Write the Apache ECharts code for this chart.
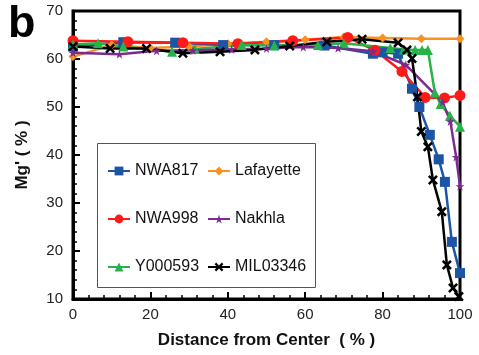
<!DOCTYPE html>
<html>
<head>
<meta charset="utf-8">
<script src="https://cdn.jsdelivr.net/npm/echarts@6/dist/echarts.min.js"></script>
<style>
  html, body { margin: 0; padding: 0; background: #fff; }
  #chart { width: 479px; height: 355px; }
</style>
</head>
<body>
<div id="chart"></div>
<script>
// values: distance from center (%) and Mg' (%)
const nwa817X = [0, 13, 26.4, 38.8, 52, 65, 77.5, 80, 84, 87.6, 89.5, 92.2, 94.5, 96.1, 97.9, 100];
const nwa817Y = [62.6, 63.5, 63.4, 62.9, 62.9, 62.8, 61.1, 61.4, 61.1, 53.8, 50, 44.2, 39.1, 34.4, 21.9, 15.4];

const lafayetteX = [0, 10, 20, 30, 40, 50, 60, 70, 80, 90, 100];
const lafayetteY = [60.5, 62.9, 62.3, 62.6, 63.2, 63.6, 64, 64.6, 64.4, 64.2, 64.2];

const nwa998X = [0, 14.2, 28.4, 42.6, 56.8, 71, 78, 85, 91, 96, 100];
const nwa998Y = [63.8, 63.6, 63.4, 63.2, 63.8, 64.5, 61.8, 57.4, 52, 51.9, 52.4];

const nakhlaX = [0, 12, 21.6, 31, 41, 50, 59.5, 68.5, 77.5, 86, 95.5, 97.5, 99, 100];
const nakhlaY = [61.3, 61, 61.7, 61.8, 62, 62.2, 62.5, 62.3, 61.6, 58.8, 51, 47, 39.6, 33.5];

const y000593X = [0, 6.5, 13, 25.6, 31.5, 43.6, 52, 63.3, 70, 82, 85.5, 88.4, 90.2, 91.7, 93.5, 95, 97.4, 100];
const y000593Y = [63, 63.3, 62.6, 61.5, 62.1, 62.9, 62.8, 62.9, 63.3, 62.3, 62, 61.9, 61.9, 61.9, 53, 50.6, 48.2, 45.9];

const mil03346X = [0, 9.6, 19, 28.4, 38, 47, 56, 65.6, 74.7, 84, 86.3, 87.6, 89, 90, 91.7, 93, 95.3, 96.6, 98.2, 99.7];
const mil03346Y = [62.6, 62.2, 62.2, 61.2, 61.5, 61.9, 62.7, 63.6, 64.1, 63.4, 61.9, 60.1, 52.1, 44.9, 41.7, 34.8, 28.2, 17.1, 12.3, 10.5];

const xTicks = [0, 20, 40, 60, 80, 100];
const yTicks = [10, 20, 30, 40, 50, 60, 70];

const starPath = 'path://M50,0 L61,35 L98,35 L68,57 L79,91 L50,70 L21,91 L32,57 L2,35 L39,35 Z';
const crossPath = 'path://M0,18 L18,0 L50,32 L82,0 L100,18 L68,50 L100,82 L82,100 L50,68 L18,100 L0,82 L32,50 Z';

function pairs(xs, ys) {
  return xs.map((x, i) => [x, ys[i]]);
}

const chartDom = document.getElementById('chart');
const myChart = echarts.init(chartDom);

const font = 'Liberation Sans, Arial, sans-serif';

function line(name, xs, ys, color, symbol, size) {
  return {
    name: name,
    type: 'line',
    data: pairs(xs, ys),
    symbol: symbol,
    symbolSize: size,
    lineStyle: { color: color, width: 2.5 },
    itemStyle: { color: color, borderWidth: 0 },
    z: 3,
    animation: false
  };
}

const legendCommon = {
  orient: 'vertical',
  itemGap: 32,
  itemWidth: 22,
  itemHeight: 11,
  textStyle: { fontFamily: font, fontSize: 16, color: '#111' }
};

const option = {
  animation: false,
  grid: {
    left: 73, right: 19, top: 11, bottom: 56,
    show: true,
    borderColor: '#000',
    borderWidth: 3
  },
  graphic: [
    {
      type: 'text',
      left: 8, top: 2,
      style: { text: 'b', font: 'bold 45px ' + font, fill: '#000' }
    },
    {
      type: 'rect',
      shape: { x: 97.5, y: 143.5, width: 218, height: 144 },
      style: { fill: '#fff', stroke: '#555', lineWidth: 1 },
      z: 10
    }
  ],
  legend: [
    Object.assign({}, legendCommon, {
      left: 102, top: 158,
      data: ['NWA817', 'NWA998', 'Y000593'],
      z: 20
    }),
    Object.assign({}, legendCommon, {
      left: 202, top: 158,
      data: ['Lafayette', 'Nakhla', 'MIL03346'],
      z: 20
    })
  ],
  xAxis: {
    type: 'value',
    min: xTicks[0],
    max: xTicks[xTicks.length - 1],
    interval: 20,
    name: 'Distance from Center  ( % )',
    nameLocation: 'middle',
    nameGap: 33,
    nameTextStyle: { fontFamily: font, fontSize: 17, fontWeight: 'bold', color: '#111' },
    axisLine: { lineStyle: { color: '#000', width: 3 } },
    axisTick: { inside: true, length: 7, lineStyle: { color: '#000', width: 2 } },
    minorTick: { show: true, splitNumber: 5, length: 4, lineStyle: { color: '#000', width: 1.5 } },
    axisLabel: { fontFamily: font, fontSize: 15, color: '#222', margin: 8 },
    splitLine: { show: false }
  },
  yAxis: {
    type: 'value',
    min: yTicks[0],
    max: yTicks[yTicks.length - 1],
    interval: 10,
    name: "Mg' ( % )",
    nameLocation: 'middle',
    nameGap: 42,
    nameTextStyle: { fontFamily: font, fontSize: 17, fontWeight: 'bold', color: '#111' },
    axisLine: { show: true, lineStyle: { color: '#000', width: 3 } },
    axisTick: { show: true, inside: true, length: 7, lineStyle: { color: '#000', width: 2 } },
    minorTick: { show: true, splitNumber: 5, length: 4, lineStyle: { color: '#000', width: 1.5 } },
    axisLabel: { fontFamily: font, fontSize: 15, color: '#222', margin: 10 },
    splitLine: { show: false }
  },
  series: [
    line('Lafayette', lafayetteX, lafayetteY, '#f7931e', 'diamond', 9),
    line('NWA817', nwa817X, nwa817Y, '#1c55a3', 'rect', 10),
    line('NWA998', nwa998X, nwa998Y, '#ff1a1a', 'circle', 11),
    line('Y000593', y000593X, y000593Y, '#27b24a', 'triangle', 10),
    line('Nakhla', nakhlaX, nakhlaY, '#7d2a90', starPath, 9),
    line('MIL03346', mil03346X, mil03346Y, '#000000', crossPath, 10)
  ]
};

myChart.setOption(option);
</script>
</body>
</html>
